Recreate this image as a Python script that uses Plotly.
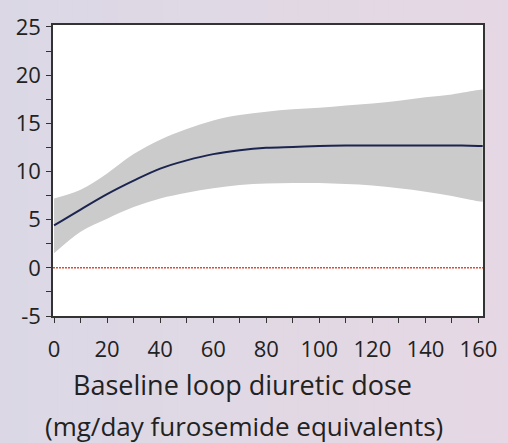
import plotly.graph_objects as go
import numpy as np

dose = [0, 10, 20, 30, 40, 50, 60, 70, 80, 90, 100, 110, 120, 130, 140, 150, 160, 161.6]
effect = [4.4, 6.05, 7.65, 9.05, 10.3, 11.15, 11.8, 12.2, 12.45, 12.55, 12.65, 12.7, 12.7, 12.7, 12.7, 12.7, 12.65, 12.65]
upper = [7.2, 8.1, 9.8, 11.8, 13.3, 14.4, 15.3, 15.85, 16.2, 16.45, 16.6, 16.85, 17.05, 17.35, 17.7, 18.0, 18.45, 18.5]
lower = [1.5, 3.75, 5.1, 6.3, 7.2, 7.8, 8.25, 8.6, 8.75, 8.8, 8.8, 8.7, 8.55, 8.25, 7.9, 7.45, 6.9, 6.85]

x_ticks = [0, 20, 40, 60, 80, 100, 120, 140, 160]
y_ticks = [-5, 0, 5, 10, 15, 20, 25]
y_tick_labels = ["-5", "0", "5", "10", "15", "20", "25"]
x_title_1 = "Baseline loop diuretic dose"
x_title_2 = "(mg/day furosemide equivalents)"

FONT = "Open Sans"
fig = go.Figure()

fig.add_trace(go.Scatter(x=dose, y=upper, mode="lines", line=dict(width=0, shape="spline"),
                         showlegend=False, hoverinfo="skip"))
fig.add_trace(go.Scatter(x=dose, y=lower, mode="lines", line=dict(width=0, shape="spline"),
                         fill="tonexty", fillcolor="#cbcbcb", showlegend=False, hoverinfo="skip"))
fig.add_trace(go.Scatter(x=dose, y=effect, mode="lines",
                         line=dict(color="#1c2550", width=2, shape="spline"), showlegend=False))
fig.add_trace(go.Scatter(x=[-0.4, 161.7], y=[0, 0], mode="lines",
                         line=dict(color="#e24a30", width=1.5, dash="2px,1px"), showlegend=False))

# background gradient strips
n = 40
c0 = np.array([219, 216, 230])
c1 = np.array([231, 216, 228])
shapes = []
for i in range(n):
    t = i / (n - 1)
    c = (c0 * (1 - t) + c1 * t).astype(int)
    shapes.append(dict(type="rect", xref="paper", yref="paper", layer="below",
                       x0=-0.2 + i * 1.4 / n, x1=-0.2 + (i + 1) * 1.4 / n + 0.002,
                       y0=-0.6, y1=1.1, line=dict(width=0),
                       fillcolor=f"rgb({c[0]},{c[1]},{c[2]})"))
shapes.append(dict(type="rect", xref="paper", yref="paper", layer="below",
                   x0=0, x1=1, y0=0, y1=1, line=dict(width=0), fillcolor="white"))

fig.update_layout(
    width=508, height=443,
    margin=dict(l=53, r=15, t=11, b=127),
    paper_bgcolor="#dfd8e6", plot_bgcolor="rgba(0,0,0,0)",
    shapes=shapes,
    font=dict(family=FONT, color="#222222", size=17),
    xaxis=dict(range=[-0.4, 161.7], tickvals=x_ticks, ticks="outside", ticklen=5,
               tickwidth=1.2, tickcolor="#333", showgrid=False, zeroline=False,
               showline=True, linecolor="#333", linewidth=1.5, mirror=True,
               ticklabelstandoff=8, tickfont=dict(size=22), ticklabeloverflow="allow",
               minor=dict(dtick=10, tick0=0, ticks="outside", ticklen=5, tickwidth=1.2, tickcolor="#333")),
    yaxis=dict(range=[-5, 25.2], tickvals=y_ticks, ticktext=y_tick_labels, ticks="outside", ticklen=5,
               tickwidth=1.2, tickcolor="#333", showgrid=False, zeroline=False,
               showline=True, linecolor="#333", linewidth=1.5, mirror=True,
               ticklabelstandoff=1, tickfont=dict(size=22), ticklabeloverflow="allow",
               minor=dict(dtick=2.5, tick0=0, ticks="outside", ticklen=5, tickwidth=1.2, tickcolor="#333")),
    annotations=[
        dict(text=x_title_1, xref="paper", yref="paper", x=0.44, y=-0.235,
             xanchor="center", yanchor="middle", showarrow=False, font=dict(size=27, family=FONT)),
        dict(text=x_title_2, xref="paper", yref="paper", x=0.445, y=-0.378,
             xanchor="center", yanchor="middle", showarrow=False, font=dict(size=26, family=FONT)),
    ],
)

fig.write_html("out.html")
